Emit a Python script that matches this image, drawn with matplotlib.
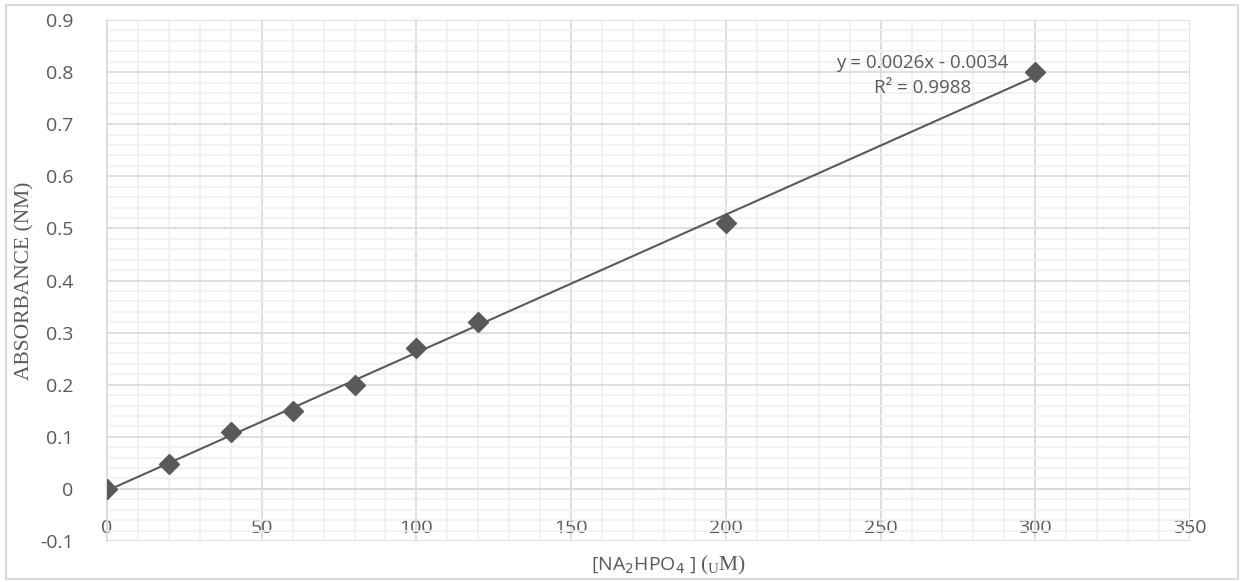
import numpy as np
import matplotlib
matplotlib.use("Agg")
import matplotlib.pyplot as plt
from matplotlib.patches import Rectangle
from matplotlib.ticker import MultipleLocator

# data
conc = [0, 20, 40, 60, 80, 100, 120, 200, 300]
absorb = [0.0, 0.047, 0.11, 0.15, 0.20, 0.27, 0.32, 0.51, 0.80]
eq_text = "y = 0.0026x - 0.0034"
r2_text = "R² = 0.9988"

grey = "#595959"
major_c = "#d9d9d9"
minor_c = "#f0f0f0"

fig = plt.figure(figsize=(12.44, 5.82), dpi=100)
ax = fig.add_axes([107 / 1244, 41 / 582, 1083 / 1244, 521 / 582])

ax.set_xlim(0, 350)
ax.set_ylim(-0.1, 0.9)
ax.xaxis.set_major_locator(MultipleLocator(50))
ax.xaxis.set_minor_locator(MultipleLocator(10))
ax.yaxis.set_major_locator(MultipleLocator(0.1))
ax.yaxis.set_minor_locator(MultipleLocator(0.02))
ax.grid(which="major", color=major_c, lw=1.2)
ax.grid(which="minor", color=minor_c, lw=1.2)
ax.set_axisbelow(True)

for s in ["top", "right"]:
    ax.spines[s].set_visible(False)
ax.spines["left"].set_color(major_c)
ax.spines["left"].set_linewidth(1.2)
ax.spines["bottom"].set_position(("data", 0))
ax.spines["bottom"].set_color(major_c)
ax.spines["bottom"].set_linewidth(1.2)

yt = np.round(np.arange(-0.1, 0.91, 0.1), 1)
ax.set_yticks(yt)
ax.set_yticklabels([f"{v:g}" for v in yt])
ax.tick_params(which="both", length=0)
ax.tick_params(axis="x", pad=22, labelsize=14, labelcolor=grey)
ax.tick_params(axis="y", pad=24, labelsize=14, labelcolor=grey)
for lbl in ax.get_xticklabels() + ax.get_yticklabels():
    lbl.set_family("Open Sans")

# linear trendline fitted to the points
k, b = np.polyfit(conc, absorb, 1)
xt = np.array([conc[0], conc[-1]])
ax.plot(xt, k * xt + b, color=grey, lw=1.5, zorder=3)
ax.plot(conc, absorb, linestyle="none", marker="D", ms=10.5, color=grey, zorder=4)

ax.text(263.5, 0.817, eq_text, ha="center", va="center", fontsize=13.5,
        color=grey, family="Open Sans")
ax.text(263.5, 0.769, r2_text, ha="center", va="center", fontsize=13.5,
        color=grey, family="Open Sans")

ax.set_ylabel("ABSORBANCE (NM)", family="Liberation Serif", fontsize=15.5,
              color=grey, labelpad=4)

# x label: sans part + serif part
fig.text(0.5595, 0.029, r"[NA$_2$HPO$_4$ ]", ha="right", va="center",
         fontsize=14, color=grey, family="Open Sans")
fig.text(0.5625, 0.029, r"($_{\mathregular{U}}$M)", ha="left", va="center",
         fontsize=15.5, color=grey, family="Liberation Serif")

# outer chart frame
fig.patches.append(Rectangle((6 / 1244, 3 / 582), 1232 / 1244, 574 / 582,
                             transform=fig.transFigure, fill=False,
                             edgecolor=major_c, lw=1.5))

fig.savefig("out.png", dpi=100)
